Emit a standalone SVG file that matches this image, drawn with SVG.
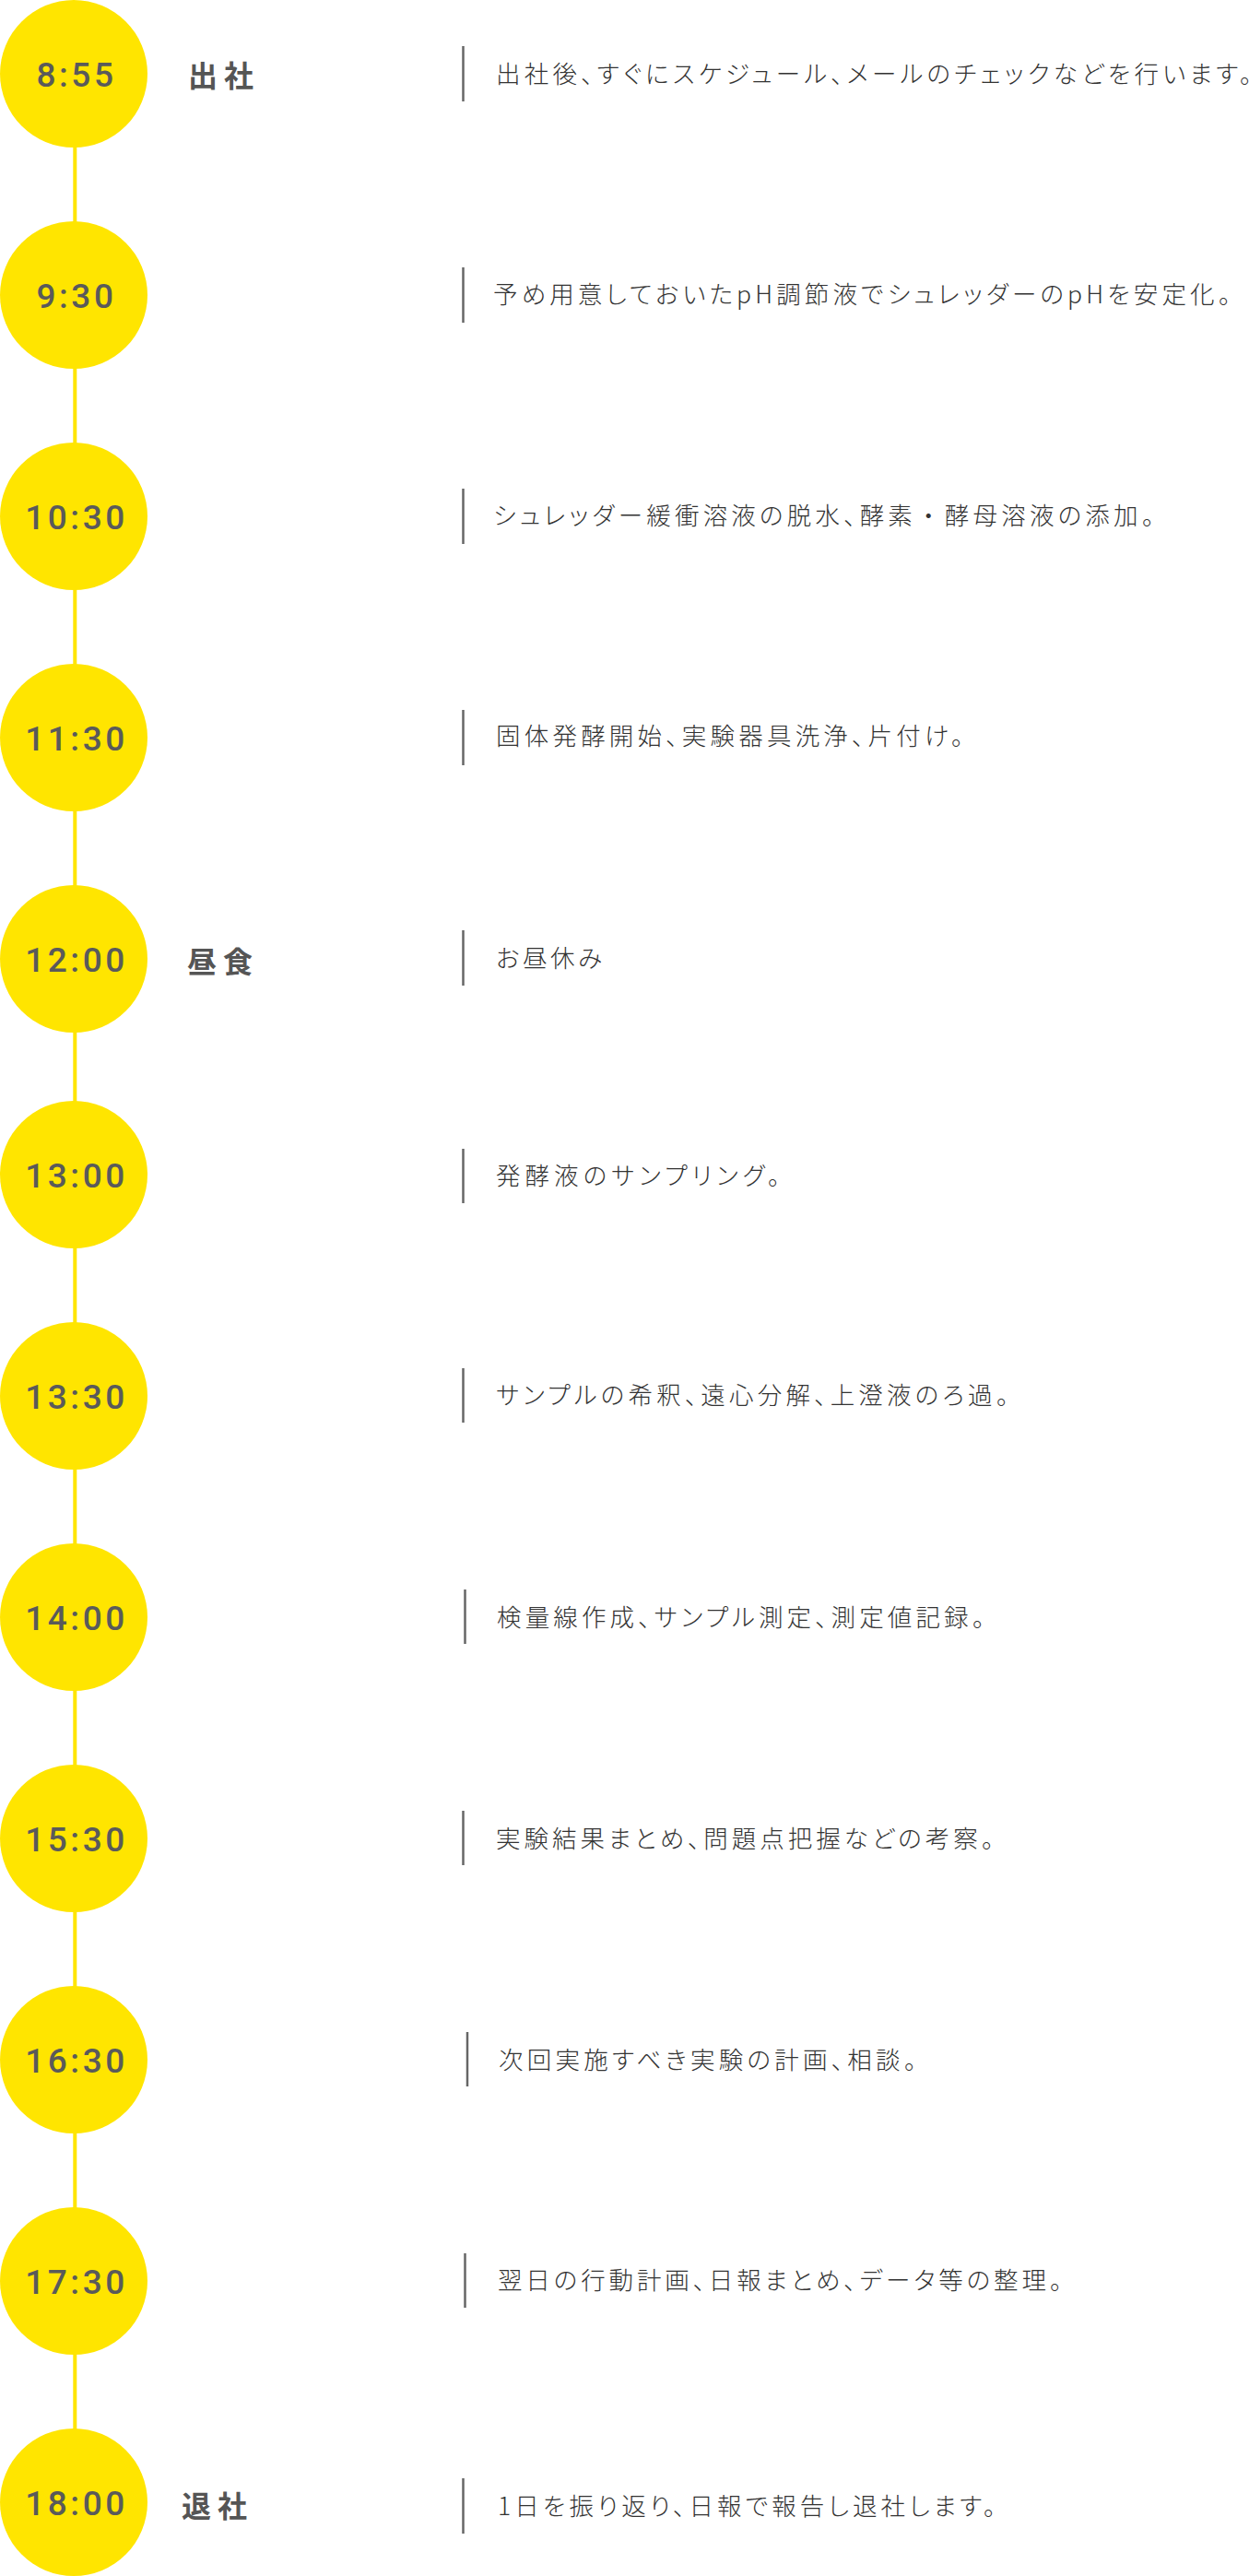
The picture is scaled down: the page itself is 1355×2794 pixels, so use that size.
<svg xmlns="http://www.w3.org/2000/svg" width="1355" height="2794" viewBox="0 0 1355 2794">
<style>
.dot{fill:#FFE500}
.conn{stroke:#FFE500;stroke-width:4;fill:none}
.time{font-family:Roboto,"Liberation Sans",sans-serif;font-weight:500;font-size:37px;letter-spacing:3.5px;fill:#5a5a5a;text-anchor:middle}
.lbl{font-family:"Noto Sans CJK JP","Noto Sans CJK SC",sans-serif;font-weight:700;font-size:32px;letter-spacing:7px;fill:#555}
.bar{stroke:#666;stroke-width:2.5}
.desc{font-family:"Noto Sans CJK JP","Noto Sans CJK SC",sans-serif;font-weight:300;font-size:26.5px;letter-spacing:2px;fill:#333;font-feature-settings:"palt" 1}
.full{font-feature-settings:normal}
</style>
<rect width="1355" height="2794" fill="#fff"/>
<g id="connectors">
<line class="conn" x1="81.3" y1="80" x2="81.3" y2="2714"/>
</g>
<g id="n0855"><circle class="dot" cx="80" cy="80" r="80"/><text class="time" x="83" y="93.5">8:55</text><text class="lbl" x="204" y="94">出社</text><line class="bar" x1="502.5" y1="50" x2="502.5" y2="110"/><text class="desc" x="538" y="90" textLength="822" lengthAdjust="spacing">出社後、すぐにスケジュール、メールのチェックなどを行います。</text></g>
<g id="n0930"><circle class="dot" cx="80" cy="320" r="80"/><text class="time" x="83" y="333.5">9:30</text><line class="bar" x1="502.5" y1="290" x2="502.5" y2="350"/><text class="desc" x="535" y="329" textLength="802" lengthAdjust="spacing">予め用意しておいたpH調節液でシュレッダーのpHを安定化。</text></g>
<g id="n1030"><circle class="dot" cx="80" cy="560" r="80"/><text class="time" x="83" y="573.5">10:30</text><line class="bar" x1="502.5" y1="530" x2="502.5" y2="590"/><text class="desc" x="535" y="569" textLength="719" lengthAdjust="spacing">シュレッダー緩衝溶液の脱水、酵素<tspan class="full">・</tspan>酵母溶液の添加。</text></g>
<g id="n1130"><circle class="dot" cx="80" cy="800" r="80"/><text class="time" x="83" y="813.5">11:30</text><line class="bar" x1="502.5" y1="770" x2="502.5" y2="830"/><text class="desc" x="538" y="808" textLength="509" lengthAdjust="spacing">固体発酵開始、実験器具洗浄、片付け。</text></g>
<g id="n1200"><circle class="dot" cx="80" cy="1040" r="80"/><text class="time" x="83" y="1053.5">12:00</text><text class="lbl" x="203" y="1055">昼食</text><line class="bar" x1="502.5" y1="1009" x2="502.5" y2="1069"/><text class="desc" x="538" y="1049" textLength="117" lengthAdjust="spacing">お昼休み</text></g>
<g id="n1300"><circle class="dot" cx="80" cy="1274" r="80"/><text class="time" x="83" y="1287.5">13:00</text><line class="bar" x1="502.5" y1="1246" x2="502.5" y2="1305"/><text class="desc" x="538" y="1285" textLength="310" lengthAdjust="spacing">発酵液のサンプリング。</text></g>
<g id="n1330"><circle class="dot" cx="80" cy="1514" r="80"/><text class="time" x="83" y="1527.5">13:30</text><line class="bar" x1="502.5" y1="1484" x2="502.5" y2="1543"/><text class="desc" x="538" y="1523" textLength="558" lengthAdjust="spacing">サンプルの希釈、遠心分解、上澄液のろ過。</text></g>
<g id="n1400"><circle class="dot" cx="80" cy="1754" r="80"/><text class="time" x="83" y="1767.5">14:00</text><line class="bar" x1="504.5" y1="1724" x2="504.5" y2="1783"/><text class="desc" x="539" y="1764" textLength="531" lengthAdjust="spacing">検量線作成、サンプル測定、測定値記録。</text></g>
<g id="n1530"><circle class="dot" cx="80" cy="1994" r="80"/><text class="time" x="83" y="2007.5">15:30</text><line class="bar" x1="502.5" y1="1964" x2="502.5" y2="2023"/><text class="desc" x="538" y="2004" textLength="542" lengthAdjust="spacing">実験結果まとめ、問題点把握などの考察。</text></g>
<g id="n1630"><circle class="dot" cx="80" cy="2234" r="80"/><text class="time" x="83" y="2247.5">16:30</text><line class="bar" x1="507" y1="2204" x2="507" y2="2263"/><text class="desc" x="541" y="2244" textLength="455" lengthAdjust="spacing">次回実施すべき実験の計画、相談。</text></g>
<g id="n1730"><circle class="dot" cx="80" cy="2474" r="80"/><text class="time" x="83" y="2487.5">17:30</text><line class="bar" x1="504.5" y1="2444" x2="504.5" y2="2503"/><text class="desc" x="540" y="2483" textLength="614" lengthAdjust="spacing">翌日の行動計画、日報まとめ、データ等の整理。</text></g>
<g id="n1800"><circle class="dot" cx="80" cy="2714" r="80"/><text class="time" x="83" y="2727.5">18:00</text><text class="lbl" x="197" y="2730">退社</text><line class="bar" x1="502.5" y1="2688" x2="502.5" y2="2748"/><text class="desc" x="540" y="2728" textLength="542" lengthAdjust="spacing">1日を振り返り、日報で報告し退社します。</text></g>
</svg>
